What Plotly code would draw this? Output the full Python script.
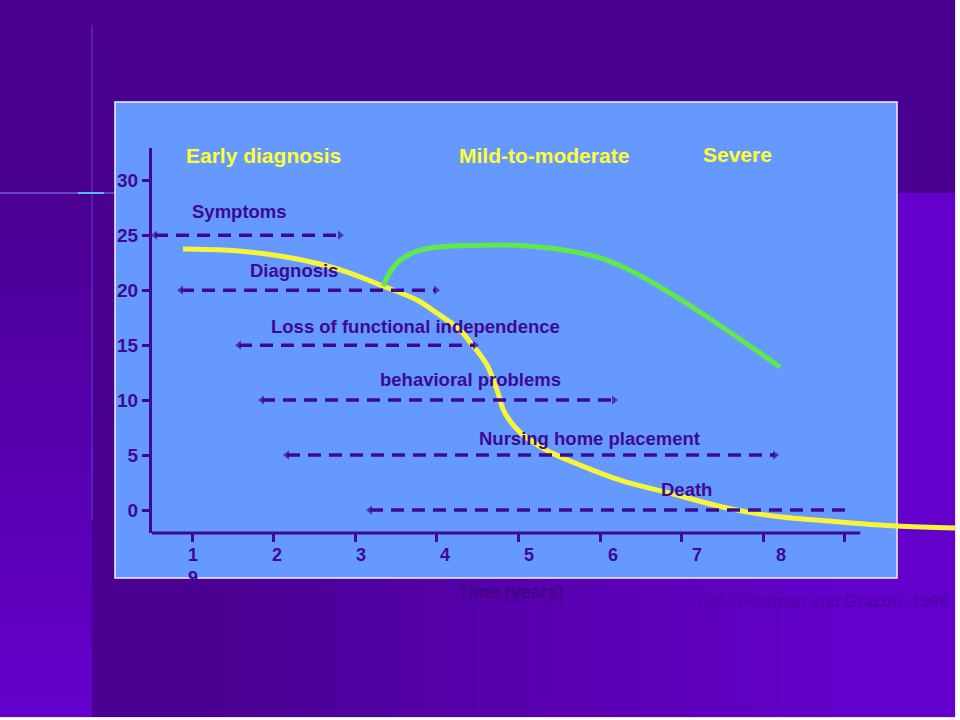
import plotly.graph_objects as go

# ---------------- data ----------------
x_tick_vals = [1, 2, 3, 4, 5, 6, 7, 8, 9]
x_label_vals = [1, 2, 3, 4, 5, 6, 7, 8]
x_label_text = ["1<br>9", "2", "3", "4", "5", "6", "7", "8"]
y_tick_vals = [0, 5, 10, 15, 20, 25, 30]
y_tick_text = ["0", "5", "10", "15", "20", "25", "30"]

# yellow curve (cognitive function)
yellow_x = [0.89, 1.50, 2.115, 2.569, 2.936, 3.34, 3.757, 4.0, 4.284, 4.407, 4.615,
            4.738, 4.811, 4.897, 5.044, 5.363, 5.755, 6.245, 6.895, 7.556, 8.12,
            8.941, 9.64, 10.35]
yellow_y = [23.75, 23.6, 23.06, 22.38, 21.56, 20.38, 19.1, 17.92, 16.38, 15.3, 13.2,
            10.92, 9.2, 8.1, 6.92, 5.37, 4.09, 2.73, 1.46, 0.18, -0.55,
            -1.09, -1.46, -1.64]

# green curve (with early diagnosis / treatment)
green_x = [3.34, 3.426, 3.525, 3.672, 3.855, 4.10, 4.407, 4.811, 5.265, 5.632, 6.0,
           6.306, 6.613, 6.919, 7.225, 7.532, 7.838, 8.206]
green_y = [20.38, 21.65, 22.56, 23.29, 23.75, 23.97, 24.06, 24.11, 23.93, 23.56, 22.93,
           22.02, 20.83, 19.47, 18.01, 16.47, 14.92, 13.01]

# dashed event spans
span_labels = ["Symptoms", "Diagnosis", "Loss of functional independence",
               "behavioral problems", "Nursing home placement", "Death"]
span_start = [0.547, 0.865, 1.576, 1.858, 2.164, 3.181]
span_end = [2.814, 3.99, 4.468, 6.172, 8.145, 9.027]
span_level = [25, 20, 15, 10, 5, 0]
span_right_arrow = [True, True, True, True, True, False]
label_x = [1.588, 2.25, 3.745, 4.419, 5.877, 7.054]
label_shift = [24, 20, 19, 21, 17, 21]

phase_labels = ["Early diagnosis", "Mild-to-moderate", "Severe"]
phase_x = [1.882, 5.314, 7.691]
phase_y = [32.21, 32.21, 32.3]

# ---------------- layout geometry ----------------
W, H = 960, 720
L, R, T, B = 152, 5, 148, 187
PW, PH = W - L - R, H - T - B


def px(x):
    return (x - L) / PW


def py(y):
    return (H - B - y) / PH


X_RANGE = [1 + (L - 192) / 81.6, 1 + (W - R - 192) / 81.6]
X2_RANGE = [1 + (L - 193) / 84.0, 1 + (W - R - 193) / 84.0]   # label row spacing
Y_RANGE = [(510.04 - (H - B)) / 10.993, (510.04 - T) / 10.993]

TXT = "#3D0A90"
DARK = (74, 0, 144)
LIGHT = (100, 0, 204)
FONT = "Liberation Sans, Arial, sans-serif"


def mix(t):
    c = [round(DARK[i] + (LIGHT[i] - DARK[i]) * t) for i in range(3)]
    return "rgb(%d,%d,%d)" % tuple(c)


fig = go.Figure()

fig.add_trace(go.Scatter(x=yellow_x, y=yellow_y, mode="lines",
                         line=dict(color="#F6F53A", width=5, shape="spline", smoothing=1.0),
                         hoverinfo="skip", showlegend=False))
fig.add_trace(go.Scatter(x=green_x, y=green_y, mode="lines",
                         line=dict(color="#5FEA48", width=5, shape="spline", smoothing=0.8),
                         hoverinfo="skip", showlegend=False))

for i in range(len(span_labels)):
    fig.add_trace(go.Scatter(
        x=[span_start[i], span_end[i]], y=[span_level[i], span_level[i]],
        mode="lines+markers",
        line=dict(color=TXT, width=3.5, dash="13px,8px"),
        marker=dict(symbol=["triangle-left", "triangle-right"],
                    size=[8, 8 if span_right_arrow[i] else 0], color=TXT,
                    line=dict(width=0)),
        hoverinfo="skip", showlegend=False))
    fig.add_annotation(x=label_x[i], y=span_level[i], yshift=label_shift[i],
                       text=span_labels[i], showarrow=False,
                       font=dict(family=FONT, size=18.5, color=TXT, weight="bold"))

# invisible trace so the label axis is drawn
fig.add_trace(go.Scatter(x=[x_label_vals[0]], y=[y_tick_vals[0]], xaxis="x2", mode="markers",
                         marker=dict(opacity=0), hoverinfo="skip", showlegend=False))

for i in range(len(phase_labels)):
    fig.add_annotation(x=phase_x[i], y=phase_y[i], text=phase_labels[i], showarrow=False,
                       font=dict(family=FONT, size=21, color="#FFFF33", weight="bold"))

# ---------------- background shapes ----------------
shapes = []
shapes.append(dict(type="rect", xref="paper", yref="paper", x0=px(0), x1=px(955),
                   y0=py(0), y1=py(717), fillcolor=mix(0), line=dict(width=0), layer="below"))
N = 24
for k in range(N):
    y0 = 180 + (717 - 180) * k / N
    y1 = 180 + (717 - 180) * (k + 1) / N
    shapes.append(dict(type="rect", xref="paper", yref="paper", x0=px(0), x1=px(92),
                       y0=py(y0), y1=py(y1 + 0.5), fillcolor=mix((k + 0.5) / N),
                       line=dict(width=0), layer="below"))
for k in range(N):
    x0 = 200 + (860 - 200) * k / N
    x1 = 200 + (860 - 200) * (k + 1) / N
    shapes.append(dict(type="rect", xref="paper", yref="paper", x0=px(x0), x1=px(x1 + 0.5),
                       y0=py(578), y1=py(717), fillcolor=mix((k + 0.5) / N),
                       line=dict(width=0), layer="below"))
shapes.append(dict(type="rect", xref="paper", yref="paper", x0=px(860), x1=px(955),
                   y0=py(578), y1=py(717), fillcolor=mix(1), line=dict(width=0), layer="below"))
shapes.append(dict(type="rect", xref="paper", yref="paper", x0=px(897), x1=px(955),
                   y0=py(193), y1=py(578), fillcolor=mix(1), line=dict(width=0), layer="below"))
shapes.append(dict(type="line", xref="paper", yref="paper", x0=px(92), x1=px(92),
                   y0=py(25), y1=py(520), line=dict(color="rgba(120,110,255,0.55)", width=1),
                   layer="below"))
shapes.append(dict(type="line", xref="paper", yref="paper", x0=px(0), x1=px(115),
                   y0=py(193), y1=py(193), line=dict(color="rgba(120,120,255,0.75)", width=1.5),
                   layer="below"))
shapes.append(dict(type="line", xref="paper", yref="paper", x0=px(78), x1=px(104),
                   y0=py(193), y1=py(193), line=dict(color="#55BBFF", width=2), layer="below"))
shapes.append(dict(type="rect", xref="paper", yref="paper", x0=px(115), x1=px(897),
                   y0=py(102), y1=py(578), fillcolor="#6699FF",
                   line=dict(color="#F4F0FF", width=1.5), layer="below"))
shapes.append(dict(type="line", xref="x", yref="paper", x0=X_RANGE[0], x1=9.19,
                   y0=0, y1=0, line=dict(color=TXT, width=3)))
shapes.append(dict(type="line", xref="paper", yref="paper", x0=px(955.5), x1=px(955.5),
                   y0=py(0), y1=py(717), line=dict(color="#F0D8FF", width=1)))
shapes.append(dict(type="line", xref="paper", yref="paper", x0=px(0), x1=px(956),
                   y0=py(717.5), y1=py(717.5), line=dict(color="#F0D8FF", width=1)))

fig.update_layout(shapes=shapes)

fig.add_annotation(xref="paper", yref="paper", x=px(511), y=py(592), text="Time (years)",
                   xanchor="center", yanchor="middle",
                   showarrow=False, font=dict(family=FONT, size=18, color="#440088", weight="bold"))
fig.add_annotation(xref="paper", yref="paper", x=px(825), y=py(601),
                   text="Ref.  Feldman and Gracon, 1996.", showarrow=False,
                   xanchor="center", yanchor="middle",
                   font=dict(family=FONT, size=16.5, color="#5400B0", weight="bold"))

fig.update_layout(
    xaxis=dict(range=X_RANGE, tickvals=x_tick_vals, showticklabels=False,
               showgrid=False, zeroline=False, showline=False,
               ticks="outside", ticklen=8, tickwidth=2.5, tickcolor=TXT),
    xaxis2=dict(range=X2_RANGE, overlaying="x", anchor="y", side="bottom",
                tickvals=x_label_vals, ticktext=x_label_text,
                showgrid=False, zeroline=False, showline=False, ticks="",
                ticklabelstandoff=9,
                tickfont=dict(family=FONT, size=18, color=TXT, weight="bold")),
    yaxis=dict(range=Y_RANGE, tickvals=y_tick_vals, ticktext=y_tick_text,
               showgrid=False, zeroline=False, showline=True, linecolor=TXT, linewidth=3,
               ticks="outside", ticklen=7, tickwidth=2.5, tickcolor=TXT,
               tickfont=dict(family=FONT, size=19, color=TXT, weight="bold")),
)

fig.update_layout(width=W, height=H, margin=dict(l=L, r=R, t=T, b=B),
                  paper_bgcolor="#FFFFFF", plot_bgcolor="rgba(0,0,0,0)",
                  showlegend=False, font=dict(family=FONT))

fig.write_html("out.html", config={"displayModeBar": False},
               post_script="document.body.style.margin='0';")
